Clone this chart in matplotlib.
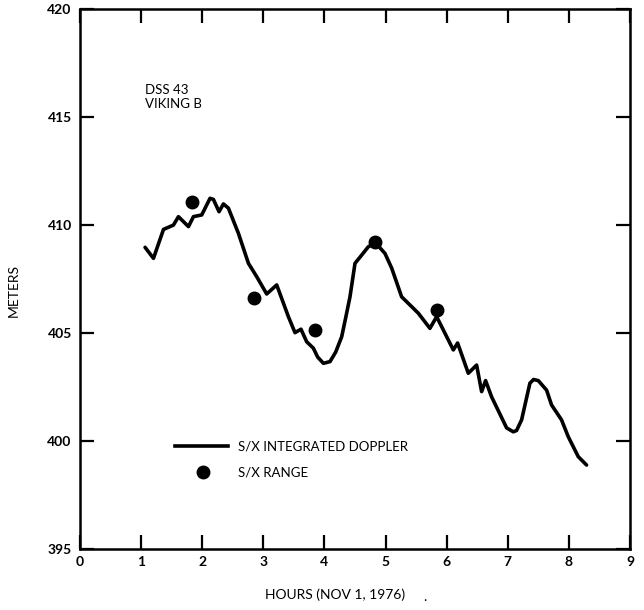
import matplotlib
matplotlib.use("Agg")
import matplotlib.pyplot as plt

plt.rcParams['font.family'] = ['Lato', 'DejaVu Sans']

# S/X integrated doppler curve (hours, meters)
doppler_hours = [1.065, 1.202, 1.366, 1.529, 1.611, 1.775, 1.856, 1.992, 2.128, 2.183,
                 2.275, 2.347, 2.429, 2.592, 2.756, 2.892, 3.055, 3.219, 3.410, 3.518,
                 3.616, 3.709, 3.819, 3.889, 3.983, 4.091, 4.184, 4.282, 4.347, 4.418,
                 4.500, 4.609, 4.719, 4.838, 4.990, 5.100, 5.263, 5.536, 5.726, 5.836,
                 6.109, 6.179, 6.354, 6.490, 6.572, 6.637, 6.735, 6.981, 7.090, 7.144,
                 7.226, 7.362, 7.422, 7.499, 7.635, 7.717, 7.880, 7.990, 8.153, 8.289]
doppler_meters = [408.98, 408.47, 409.81, 410.01, 410.40, 409.94, 410.40, 410.48, 411.25, 411.20,
                  410.63, 410.99, 410.79, 409.63, 408.24, 407.62, 406.82, 407.24, 405.77, 405.03,
                  405.19, 404.61, 404.31, 403.90, 403.61, 403.69, 404.13, 404.84, 405.71, 406.69,
                  408.24, 408.62, 409.01, 409.18, 408.70, 408.02, 406.69, 405.93, 405.23, 405.77,
                  404.23, 404.55, 403.15, 403.53, 402.30, 402.81, 402.06, 400.62, 400.44, 400.50,
                  400.99, 402.69, 402.86, 402.81, 402.37, 401.68, 400.99, 400.21, 399.29, 398.90]

# S/X range points
range_hours = [1.84, 2.84, 3.84, 4.83, 5.84]
range_meters = [411.06, 406.62, 405.15, 409.24, 406.08]

x_ticks = [0, 1, 2, 3, 4, 5, 6, 7, 8, 9]
y_ticks = [395, 400, 405, 410, 415, 420]

fig = plt.figure(figsize=(6.44, 6.10), dpi=100)
ax = fig.add_axes([80 / 644, 1 - 549.3 / 610, 550 / 644, 540 / 610])

ax.plot(doppler_hours, doppler_meters, color='black', lw=2.6,
        solid_joinstyle='round', solid_capstyle='round')
ax.plot(range_hours, range_meters, 'o', color='black', ms=9)

ax.set_xlim(0, 9)
ax.set_ylim(395, 420)
ax.set_xticks(x_ticks)
ax.set_yticks(y_ticks)
ax.tick_params(direction='in', length=10, width=1.6, labelsize=10,
               top=True, right=True, pad=6)
ax.tick_params(axis='x', pad=5)
for s in ax.spines.values():
    s.set_linewidth(1.8)
for lab in ax.get_xticklabels() + ax.get_yticklabels():
    lab.set_fontweight('bold')

ax.set_xlabel('HOURS (NOV 1, 1976)', fontsize=10, labelpad=10)
ax.xaxis.set_label_coords(0.464, -0.072)
ax.set_ylabel('METERS', fontsize=10)
ax.yaxis.set_label_coords(-0.11, 0.48)

ax.text(0.118, 0.862, 'DSS 43\nVIKING B', transform=ax.transAxes,
        fontsize=9.5, va='top', ha='left', linespacing=1.2)

# legend drawn manually
ax.plot([0.173, 0.269], [0.191, 0.191], transform=ax.transAxes,
        color='black', lw=2.6)
ax.plot([0.224], [0.143], 'o', transform=ax.transAxes, color='black', ms=9)
ax.text(0.287, 0.191, 'S/X INTEGRATED DOPPLER', transform=ax.transAxes,
        fontsize=9.5, va='center', ha='left')
ax.text(0.287, 0.143, 'S/X RANGE', transform=ax.transAxes,
        fontsize=9.5, va='center', ha='left')

fig.text(425 / 644, 1 - 597 / 610, '.', fontsize=10, ha='center', va='center')

fig.savefig('out.png', dpi=100)
